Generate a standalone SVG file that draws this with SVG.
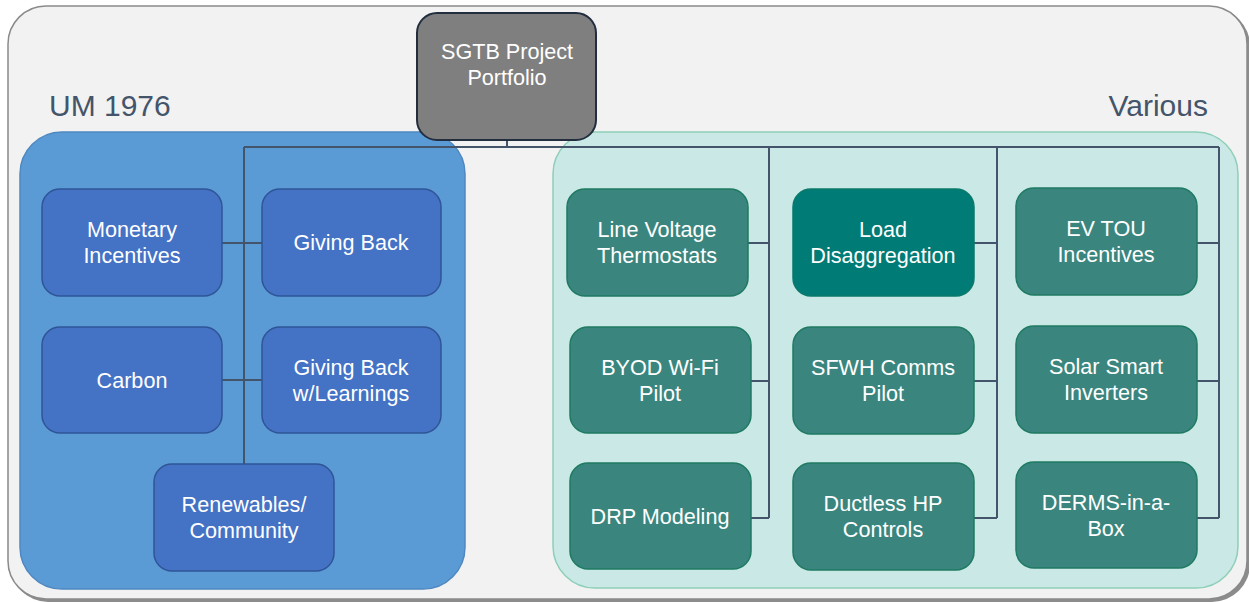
<svg xmlns="http://www.w3.org/2000/svg" width="1249" height="602" viewBox="0 0 1249 602">
<style>
.lbl{font-family:"Liberation Sans",Arial,sans-serif;font-size:30px;fill:#44546a}
.t{font-family:"Liberation Sans",Arial,sans-serif;font-size:21.6px;fill:#ffffff;text-anchor:middle}
.bn{fill:#4472c4;stroke:#2f5597;stroke-width:1.5}
.tn{fill:#3a867f;stroke:#1f7a62;stroke-width:1.5}
.cn{fill:none;stroke:#44546a;stroke-width:2}
</style>
<rect width="1249" height="602" fill="#ffffff"/>
<g id="frame">
<rect x="10" y="8" width="1240" height="594" rx="38" fill="#8c8c8c"/>
<rect x="8" y="6" width="1239" height="593" rx="38" fill="#f2f2f2" stroke="#8a8a8a" stroke-width="1.5"/>
</g>
<g id="group-um">
<rect x="20" y="132" width="445" height="457" rx="42" fill="#5b9bd5" stroke="#4f88c0" stroke-width="1.5"/>
<text class="lbl" x="49" y="116">UM 1976</text>
</g>
<g id="group-various">
<rect x="553" y="132" width="685" height="456" rx="42" fill="#cae9e6" stroke="#8dcfb7" stroke-width="1.5"/>
<text class="lbl" x="1208" y="116" text-anchor="end">Various</text>
</g>
<g id="connectors">
<path class="cn" d="M507 140V147M244 147H1219M244 147V464M222 243H262M222 380H262"/>
<path class="cn" d="M769 147V518M748 243H769M751 381H769M751 518H769"/>
<path class="cn" d="M997 147V518M974 243H997M974 381H997M974 518H997"/>
<path class="cn" d="M1219 147V518M1197 243H1219M1197 381H1219M1197 518H1219"/>
</g>
<g id="root">
<rect x="417" y="13" width="179" height="127" rx="20" fill="#7f7f7f" stroke="#222e3e" stroke-width="2"/>
<text class="t" x="507" y="59">SGTB Project</text>
<text class="t" x="507" y="85">Portfolio</text>
</g>
<g id="n-monetary">
<rect class="bn" x="42" y="189" width="180" height="107" rx="18"/>
<text class="t" x="132" y="237">Monetary</text>
<text class="t" x="132" y="263">Incentives</text>
</g>
<g id="n-giving">
<rect class="bn" x="262" y="189" width="179" height="107" rx="18"/>
<text class="t" x="351" y="250">Giving Back</text>
</g>
<g id="n-carbon">
<rect class="bn" x="42" y="327" width="180" height="106" rx="18"/>
<text class="t" x="132" y="388">Carbon</text>
</g>
<g id="n-givinglearn">
<rect class="bn" x="262" y="327" width="179" height="106" rx="18"/>
<text class="t" x="351" y="375">Giving Back</text>
<text class="t" x="351" y="401">w/Learnings</text>
</g>
<g id="n-renew">
<rect class="bn" x="154" y="464" width="180" height="107" rx="18"/>
<text class="t" x="244" y="512">Renewables/</text>
<text class="t" x="244" y="538">Community</text>
</g>
<g id="n-lvt">
<rect class="tn" x="567" y="189" width="181" height="107" rx="18"/>
<text class="t" x="657" y="237">Line Voltage</text>
<text class="t" x="657" y="263">Thermostats</text>
</g>
<g id="n-byod">
<rect class="tn" x="570" y="327" width="181" height="106" rx="18"/>
<text class="t" x="660" y="375">BYOD Wi-Fi</text>
<text class="t" x="660" y="401">Pilot</text>
</g>
<g id="n-drp">
<rect class="tn" x="570" y="463" width="181" height="106" rx="18"/>
<text class="t" x="660" y="524">DRP Modeling</text>
</g>
<g id="n-load">
<rect x="793" y="189" width="181" height="107" rx="18" fill="#007b76" stroke="#0a7a6a" stroke-width="1.5"/>
<text class="t" x="883" y="237">Load</text>
<text class="t" x="883" y="263">Disaggregation</text>
</g>
<g id="n-sfwh">
<rect class="tn" x="793" y="327" width="181" height="107" rx="18"/>
<text class="t" x="883" y="375">SFWH Comms</text>
<text class="t" x="883" y="401">Pilot</text>
</g>
<g id="n-ductless">
<rect class="tn" x="793" y="463" width="181" height="107" rx="18"/>
<text class="t" x="883" y="511">Ductless HP</text>
<text class="t" x="883" y="537">Controls</text>
</g>
<g id="n-evtou">
<rect class="tn" x="1016" y="188" width="181" height="107" rx="18"/>
<text class="t" x="1106" y="236">EV TOU</text>
<text class="t" x="1106" y="262">Incentives</text>
</g>
<g id="n-solar">
<rect class="tn" x="1016" y="326" width="181" height="107" rx="18"/>
<text class="t" x="1106" y="374">Solar Smart</text>
<text class="t" x="1106" y="400">Inverters</text>
</g>
<g id="n-derms">
<rect class="tn" x="1016" y="462" width="181" height="106" rx="18"/>
<text class="t" x="1106" y="510">DERMS-in-a-</text>
<text class="t" x="1106" y="536">Box</text>
</g>
</svg>
